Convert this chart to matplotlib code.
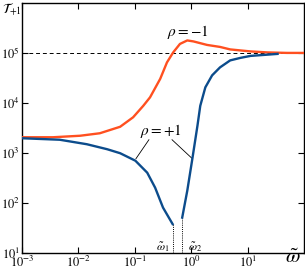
import matplotlib
matplotlib.use("Agg")
import matplotlib.pyplot as plt
import numpy as np

plt.rcParams["font.family"] = "STIXGeneral"
plt.rcParams["mathtext.fontset"] = "stix"

# ── data (log10 values) ───────────────────────────────────────────────────────
orange_logx = [-3.0, -2.45, -1.97, -1.62, -1.26, -1.03, -0.85, -0.73, -0.55,
               -0.43, -0.32, -0.20, -0.07, 0.04, 0.28, 0.51, 0.69, 0.87,
               1.05, 1.35, 1.70, 2.0]
orange_logy = [3.31, 3.31, 3.34, 3.39, 3.52, 3.71, 3.94, 4.11, 4.48,
               4.81, 5.01, 5.18, 5.25, 5.23, 5.16, 5.12, 5.07, 5.05,
               5.03, 5.01, 5.0, 5.0]

blue1_logx = [-3.0, -2.33, -1.85, -1.49, -1.26, -0.99, -0.78, -0.64, -0.50, -0.33]
blue1_logy = [3.29, 3.26, 3.17, 3.07, 2.99, 2.84, 2.60, 2.30, 1.90, 1.57]

blue2_logx = [-0.16, -0.07, 0.02, 0.11, 0.16, 0.25, 0.37, 0.51, 0.69, 0.87, 1.05, 1.53]
blue2_logy = [1.70, 2.24, 2.88, 3.54, 3.94, 4.31, 4.55, 4.71, 4.85, 4.90, 4.94, 4.98]

T_ref = 1e5

ORANGE = "#FF5020"
BLUE = "#0C4C8C"

fig = plt.figure(figsize=(3.05, 2.73), dpi=100)
ax = fig.add_axes([0.072, 0.075, 0.925, 0.914])

ax.plot(10 ** np.array(orange_logx), 10 ** np.array(orange_logy),
        color=ORANGE, lw=1.7, zorder=3, solid_joinstyle="round")
ax.plot(10 ** np.array(blue1_logx), 10 ** np.array(blue1_logy),
        color=BLUE, lw=1.7, zorder=3, solid_joinstyle="round")
ax.plot(10 ** np.array(blue2_logx), 10 ** np.array(blue2_logy),
        color=BLUE, lw=1.7, zorder=3, solid_joinstyle="round")
ax.axhline(T_ref, color="k", lw=0.7, ls=(0, (4, 3)), zorder=2)

# dotted drops to the axis at the branch ends
omega1 = 10 ** blue1_logx[-1]
omega2 = 10 ** blue2_logx[0]
ax.plot([omega1, omega1], [1e1, 10 ** blue1_logy[-1]], color="k", lw=0.7, ls=(0, (1, 1.2)))
ax.plot([omega2, omega2], [1e1, 10 ** blue2_logy[0]], color="k", lw=0.7, ls=(0, (1, 1.2)))

ax.set_xscale("log")
ax.set_yscale("log")
ax.set_xlim(1e-3, 1e2)
ax.set_ylim(1e1, 1e6)
ax.set_xticks([1e-3, 1e-2, 1e-1, 1e0, 1e1])
ax.set_yticks([1e1, 1e2, 1e3, 1e4, 1e5])
ax.minorticks_off()
ax.tick_params(direction="in", top=True, right=True, length=4, width=0.8,
               labelsize=9, pad=1.5)
for s in ax.spines.values():
    s.set_linewidth(1.0)

# annotations
ax.text(10 ** -0.06, 10 ** 5.42, r"$\rho = -1$", fontsize=11, ha="center", va="center")
ax.text(10 ** -0.53, 10 ** 3.44, r"$\rho = +1$", fontsize=11, ha="center", va="center")
ax.plot([10 ** -0.75, 10 ** -0.98], [10 ** 3.26, 10 ** 2.88], color="k", lw=0.6)
ax.plot([10 ** -0.34, 10 ** 0.02], [10 ** 3.26, 10 ** 2.88], color="k", lw=0.6)
ax.text(10 ** -0.51, 10 ** 1.11, r"$\tilde{\omega}_1$", fontsize=8.5, ha="center", va="center")
ax.text(10 ** 0.07, 10 ** 1.11, r"$\tilde{\omega}_2$", fontsize=8.5, ha="center", va="center")

fig.text(0.96, 0.018, r"$\tilde{\omega}$", fontsize=15, ha="center", va="bottom")
fig.text(0.006, 0.962, r"$\mathcal{T}_{+1}$", fontsize=10, ha="left", va="center")

fig.savefig("out.png", dpi=100)
